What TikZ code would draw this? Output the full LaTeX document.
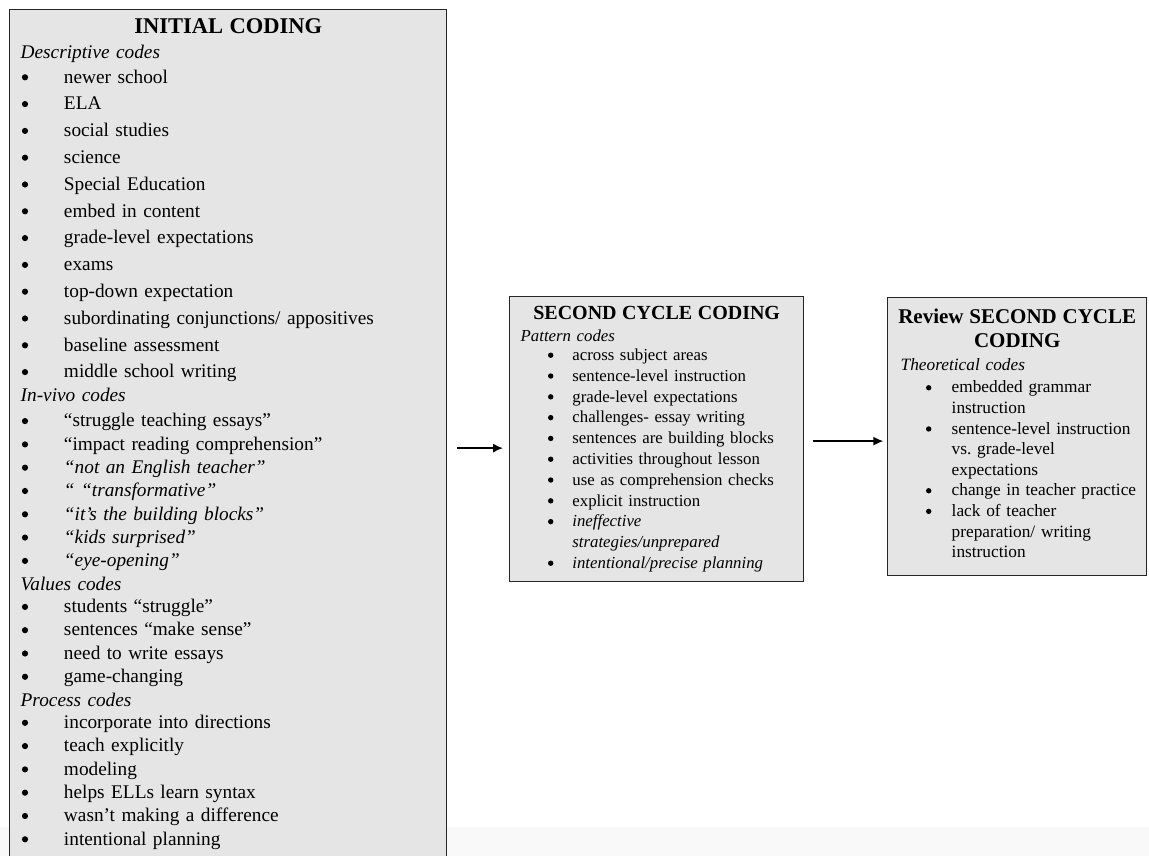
\documentclass[tikz,border=0pt]{standalone}
\usepackage{fontspec}
\setmainfont{Liberation Serif}
\usetikzlibrary{arrows.meta,calc}

\definecolor{boxgray}{HTML}{E5E5E5}
\definecolor{edgegray}{HTML}{262626}
\definecolor{bandgray}{HTML}{F9F9F9}

\newlength\bulin
\newlength\txtin
\newlength\bulr
\newlength\bulh
\newcommand{\cbullet}{\tikz[baseline=-\bulh]\fill (0pt,0pt) circle (\bulr);}
\newcommand{\citem}[1]{\hspace*{\bulin}\makebox[\txtin][l]{\cbullet}\mbox{#1}}
\newcommand{\cnext}[1]{\hspace*{\bulin}\hspace*{\txtin}\mbox{#1}}
\newcommand{\ctitle}[2]{\makebox[\linewidth]{\bfseries\fontsize{#1}{#1}\selectfont #2}}

\tikzset{
  codebox/.style={draw=edgegray, fill=boxgray, line width=1.4pt, anchor=north west, align=left},
  flow/.style={-{Latex[length=10pt,width=9pt]}, line width=1.4pt}
}

\begin{document}
\frenchspacing
\begin{tikzpicture}[x=1pt,y=-1pt]
\useasboundingbox (0,0) rectangle (1149,856);
\fill[bandgray] (0,827) rectangle (1149,856);

%Initial coding
\node[codebox, inner xsep=11pt, inner ysep=8.5pt, text width=415pt,
  font={\fontsize{19.3}{23.3}\selectfont\setlength{\bulin}{1.2pt}\setlength{\txtin}{42.1pt}%
    \setlength{\bulr}{3.1pt}\setlength{\bulh}{5.8pt}}]
  (init) at (9,9) {%
\ctitle{22.5}{INITIAL CODING}\\[1.7pt]
\textit{Descriptive codes}\\[1.7pt]
\citem{newer school}\\[3.5pt]
\citem{ELA}\\[3.5pt]
\citem{social studies}\\[3.5pt]
\citem{science}\\[3.5pt]
\citem{Special Education}\\[3.5pt]
\citem{embed in content}\\[3.5pt]
\citem{grade-level expectations}\\[3.5pt]
\citem{exams}\\[3.5pt]
\citem{top-down expectation}\\[3.5pt]
\citem{subordinating conjunctions/ appositives}\\[3.5pt]
\citem{baseline assessment}\\[3.5pt]
\citem{middle school writing}\\[0.7pt]
\textit{In-vivo codes}\\[1.7pt]
\citem{“struggle teaching essays”}\\
\citem{“impact reading comprehension”}\\
\citem{\textit{“not an English teacher”}}\\
\citem{\textit{“ “transformative”}}\\
\citem{\textit{“it’s the building blocks”}}\\
\citem{\textit{“kids surprised”}}\\
\citem{\textit{“eye-opening”}}\\[0.7pt]
\textit{Values codes}\\[-1.3pt]
\citem{students “struggle”}\\
\citem{sentences “make sense”}\\
\citem{need to write essays}\\
\citem{game-changing}\\[0.7pt]
\textit{Process codes}\\[-1.3pt]
\citem{incorporate into directions}\\
\citem{teach explicitly}\\
\citem{modeling}\\
\citem{helps ELLs learn syntax}\\
\citem{wasn’t making a difference}\\
\citem{intentional planning}};

%Second cycle coding
\node[codebox, inner xsep=11pt, inner ysep=9.5pt, text width=272pt,
  font={\fontsize{16.8}{20.8}\selectfont\setlength{\bulin}{27.3pt}\setlength{\txtin}{24.4pt}%
    \setlength{\bulr}{2.7pt}\setlength{\bulh}{5.2pt}}]
  (second) at (509,296) {%
\ctitle{20}{SECOND CYCLE CODING}\\[1.2pt]
\textit{Pattern codes}\\[-1.8pt]
\citem{across subject areas}\\
\citem{sentence-level instruction}\\
\citem{grade-level expectations}\\
\citem{challenges- essay writing}\\
\citem{sentences are building blocks}\\
\citem{activities throughout lesson}\\
\citem{use as comprehension checks}\\
\citem{explicit instruction}\\
\citem{\textit{ineffective}}\\
\cnext{\textit{strategies/unprepared}}\\
\citem{\textit{intentional/precise planning}}};

%Review second cycle coding
\node[codebox, inner xsep=13pt, inner ysep=11.7pt, text width=233pt,
  font={\fontsize{17.3}{20.6}\selectfont\setlength{\bulin}{25.3pt}\setlength{\txtin}{25.7pt}%
    \setlength{\bulr}{2.7pt}\setlength{\bulh}{5.2pt}}]
  (review) at (887,297) {%
\ctitle{21}{Review SECOND CYCLE}\\[3.4pt]
\ctitle{21}{CODING}\\[2.4pt]
\textit{Theoretical codes}\\[1.4pt]
\citem{embedded grammar}\\
\cnext{instruction}\\
\citem{sentence-level instruction}\\
\cnext{vs. grade-level}\\
\cnext{expectations}\\
\citem{change in teacher practice}\\
\citem{lack of teacher}\\
\cnext{preparation/ writing}\\
\cnext{instruction}\strut};

\draw[flow, shorten <=10pt, shorten >=6pt] ($(second.west -| init.east)+(0,9)$) -- ($(second.west)+(0,9)$);
\draw[flow, shorten <=8.4pt, shorten >=3.7pt] ($(second.east)+(0,2)$) -- ($(second.east -| review.west)+(0,2)$);

\end{tikzpicture}
\end{document}
